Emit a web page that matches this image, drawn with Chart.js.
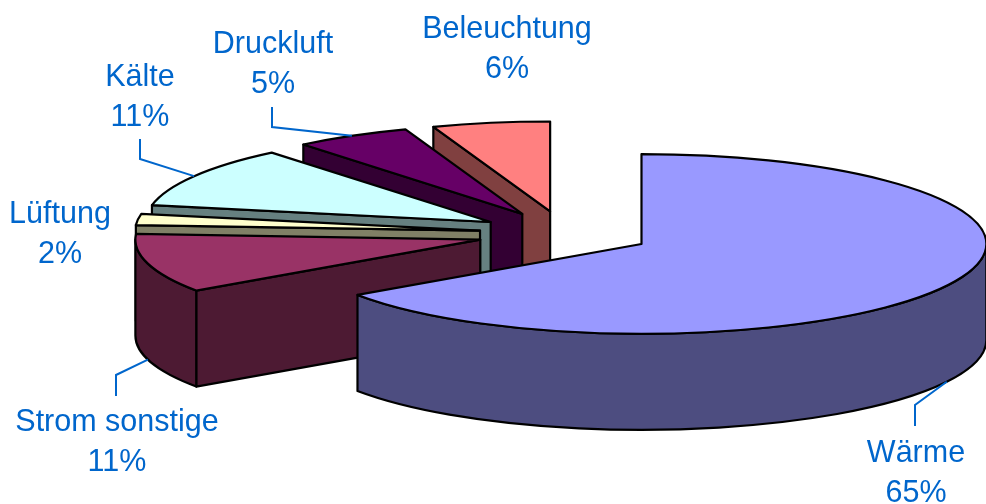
<!DOCTYPE html>
<html>
<head>
<meta charset="utf-8">
<title>Energieverbrauch</title>
<script src="https://cdn.jsdelivr.net/npm/chart.js@4/dist/chart.umd.min.js"></script>
<style>
    html, body { margin: 0; padding: 0; background: #fff; }
    #box { width: 986px; height: 504px; }
</style>
</head>
<body>
<div id="box"><canvas id="pieChart"></canvas></div>
<script>
// values, in clockwise order from 12 o'clock
// labels in the picture are these rounded to whole percent
const categories = ['Wärme', 'Strom sonstige', 'Lüftung', 'Kälte', 'Druckluft', 'Beleuchtung'];
const shares = [65.4, 10.6, 2, 11.05, 5.45, 5.5];
const topColors = ['#9999ff', '#993366', '#ffffcc', '#ccffff', '#660066', '#ff8080'];
const sideColors = ['#4d4d80', '#4d1a33', '#808066', '#668080', '#330033', '#804040'];

// label layout: text centre, then the elbow and the end of the leader line
const labelCentres = [[916, 454], [117, 423], [60, 215], [140, 78], [273, 45], [507, 30]];
const leaderElbows = [[915, 405], [116, 375], null, [140, 159], [272, 127], null];
const leaderEnds = [[915, 426], [116, 396], null, [140, 139], [272, 107], null];

const explode = [56, 57, 55.5, 56, 56, 56];
const squashX = 1.543;
const squashY = 0.402;
const shiftX = 72;
const shiftY = -18.5;
const depth = 96;
const labelColor = '#0066cc';

// turns the flat arcs from the pie controller into a tilted, exploded pie
function slicePath(arc) {
    const mid = (arc.startAngle + arc.endAngle) / 2;
    const off = arc.options.offset;
    return {
        cx: arc.x + shiftX + Math.cos(mid) * off * squashX,
        cy: arc.y + shiftY + Math.sin(mid) * off * squashY,
        rx: arc.outerRadius * squashX,
        ry: arc.outerRadius * squashY
    };
}

function fillStroke(ctx, color) {
    ctx.closePath();
    ctx.fillStyle = color;
    ctx.fill();
    ctx.stroke();
}

function drawSlice(ctx, arc, topColor, sideColor) {
    const s = slicePath(arc);
    const a0 = arc.startAngle;
    const a1 = arc.endAngle;

    // cut faces that look towards the viewer
    [[a0, Math.cos(a0) < -1e-6], [a1, Math.cos(a1) > 1e-6]].forEach(function(edge) {
        if (!edge[1]) return;
        const px = s.cx + Math.cos(edge[0]) * s.rx;
        const py = s.cy + Math.sin(edge[0]) * s.ry;
        ctx.beginPath();
        ctx.moveTo(s.cx, s.cy);
        ctx.lineTo(px, py);
        ctx.lineTo(px, py + depth);
        ctx.lineTo(s.cx, s.cy + depth);
        fillStroke(ctx, sideColor);
    });

    // outer wall, only the front half of the rim shows
    const w0 = Math.max(a0, 0);
    const w1 = Math.min(a1, Math.PI);
    if (w1 > w0) {
        ctx.beginPath();
        ctx.ellipse(s.cx, s.cy, s.rx, s.ry, 0, w0, w1);
        ctx.ellipse(s.cx, s.cy + depth, s.rx, s.ry, 0, w1, w0, true);
        fillStroke(ctx, sideColor);
    }

    // top face
    ctx.beginPath();
    ctx.moveTo(s.cx, s.cy);
    ctx.ellipse(s.cx, s.cy, s.rx, s.ry, 0, a0, a1);
    fillStroke(ctx, topColor);
}

const tiltedPie = {
    id: 'tiltedPie',
    beforeDatasetDraw(chart) {
        const ctx = chart.ctx;
        const arcs = chart.getDatasetMeta(0).data;
        ctx.save();
        ctx.lineWidth = 2.2;
        ctx.lineJoin = 'round';
        ctx.strokeStyle = '#000';
        // back slices first, the data order runs front to back
        for (let i = arcs.length - 1; i >= 0; i--) {
            drawSlice(ctx, arcs[i], topColors[i], sideColors[i]);
        }
        ctx.restore();
        return false;
    },
    afterDraw(chart) {
        const ctx = chart.ctx;
        const arcs = chart.getDatasetMeta(0).data;
        ctx.save();
        ctx.strokeStyle = labelColor;
        ctx.lineWidth = 2;
        arcs.forEach(function(arc, i) {
            if (!leaderElbows[i]) return;
            const s = slicePath(arc);
            const mid = (arc.startAngle + arc.endAngle) / 2;
            const front = Math.sin(mid) > 0 || Math.cos(arc.endAngle) * Math.cos(arc.startAngle) < 0;
            ctx.beginPath();
            ctx.moveTo(s.cx + Math.cos(mid) * s.rx, s.cy + Math.sin(mid) * s.ry + (front ? depth : 0));
            ctx.lineTo(leaderElbows[i][0], leaderElbows[i][1]);
            ctx.lineTo(leaderEnds[i][0], leaderEnds[i][1]);
            ctx.stroke();
        });
        ctx.fillStyle = labelColor;
        ctx.font = '30.5px "Liberation Sans", Arial, sans-serif';
        ctx.textAlign = 'center';
        ctx.textBaseline = 'middle';
        categories.forEach(function(name, i) {
            const c = labelCentres[i];
            ctx.fillText(name, c[0], c[1]);
            ctx.fillText(Math.round(shares[i]) + '%', c[0], c[1] + 40);
        });
        ctx.restore();
    }
};

document.addEventListener('DOMContentLoaded', function() {
    new Chart(document.getElementById('pieChart'), {
        type: 'pie',
        data: {
            labels: categories,
            datasets: [{
                data: shares,
                backgroundColor: topColors,
                borderWidth: 0,
                offset: explode
            }]
        },
        options: {
            responsive: true,
            maintainAspectRatio: false,
            animation: false,
            layout: { padding: 0 },
            plugins: {
                legend: { display: false },
                tooltip: { enabled: false }
            }
        },
        plugins: [tiltedPie]
    });
});
</script>
</body>
</html>
